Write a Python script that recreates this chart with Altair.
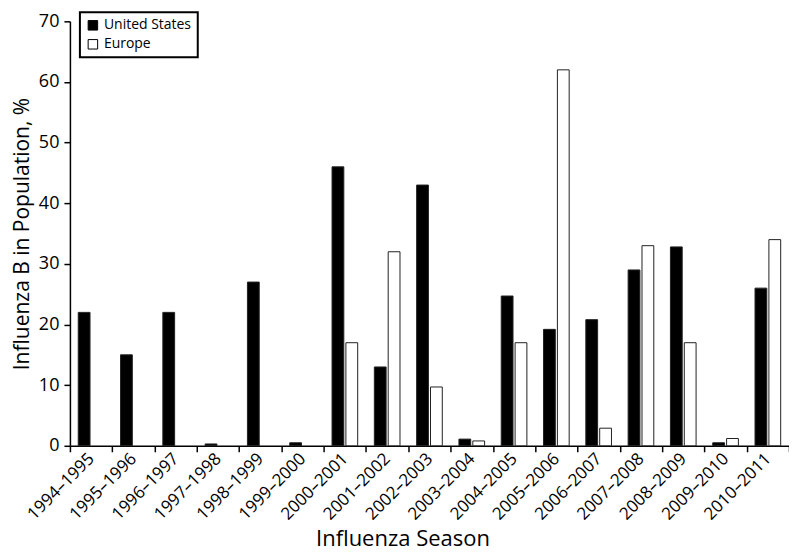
import altair as alt
import pandas as pd

seasons = ["1994–1995", "1995–1996", "1996–1997", "1997–1998", "1998–1999",
           "1999–2000", "2000–2001", "2001–2002", "2002–2003", "2003–2004",
           "2004–2005", "2005–2006", "2006–2007", "2007–2008", "2008–2009",
           "2009–2010", "2010–2011"]
us_values = [22, 15, 22, 0.3, 27, 0.5, 46, 13, 43, 1.1, 24.7, 19.2, 20.8, 29, 32.8, 0.5, 26]
europe_values = [None, None, None, None, None, None, 17, 32, 9.7, 0.8, 17, 62, 2.9, 33, 17, 1.2, 34]
regions = ["United States", "Europe"]

rows = []
for s, u, e in zip(seasons, us_values, europe_values):
    rows.append({"season": s, "region": "United States", "value": u})
    if e is not None:
        rows.append({"season": s, "region": "Europe", "value": e})
df = pd.DataFrame(rows)

FONT = "Open Sans"

chart = alt.Chart(df).mark_bar(stroke="#222222", strokeWidth=1).encode(
    x=alt.X("season:N", sort=seasons,
            scale=alt.Scale(paddingInner=0, paddingOuter=0),
            axis=alt.Axis(title="Influenza Season", labelAngle=-45, tickBand="extent",
                          labelAlign="right", labelBaseline="middle",
                          labelFontSize=17, titleFontSize=22, titleFontWeight="normal",
                          titleX=333, titleY=100, titleBaseline="alphabetic",
                          titleAlign="center", titleAnchor="start",
                          tickSize=6, labelPadding=4)),
    xOffset=alt.XOffset("region:N", sort=regions,
                        scale=alt.Scale(paddingInner=0.15, paddingOuter=0.6)),
    y=alt.Y("value:Q", scale=alt.Scale(domain=[0, 70], nice=False),
            axis=alt.Axis(title="Influenza B in Population, %", values=list(range(0, 71, 10)),
                          grid=False, labelFontSize=18, titleFontSize=21,
                          titleFontWeight="normal", tickSize=6, labelPadding=5,
                          titlePadding=6)),
    fill=alt.Fill("region:N", sort=regions,
                  scale=alt.Scale(domain=regions, range=["#000000", "#ffffff"]),
                  legend=alt.Legend(title=None, orient="none", legendX=10, legendY=-9,
                                    strokeColor="black", padding=6,
                                    labelFontSize=14, symbolType="square",
                                    symbolSize=90, symbolStrokeColor="black",
                                    symbolStrokeWidth=1, rowPadding=5,
                                    fillColor="white")),
).properties(
    width=720, height=425,
    autosize=alt.AutoSizeParams(type="none"),
    padding={"left": 62, "top": 13, "right": 0, "bottom": 106},
).configure(
    font=FONT
).configure_axis(
    domainColor="black", tickColor="black", labelColor="black", titleColor="black",
    domainWidth=1.5, tickWidth=1.5, labelFont=FONT, titleFont=FONT
).configure_legend(
    labelFont=FONT, labelColor="black", strokeWidth=2
).configure_view(stroke=None)

chart.save("out.html", embed_options={"renderer": "svg", "actions": False})
